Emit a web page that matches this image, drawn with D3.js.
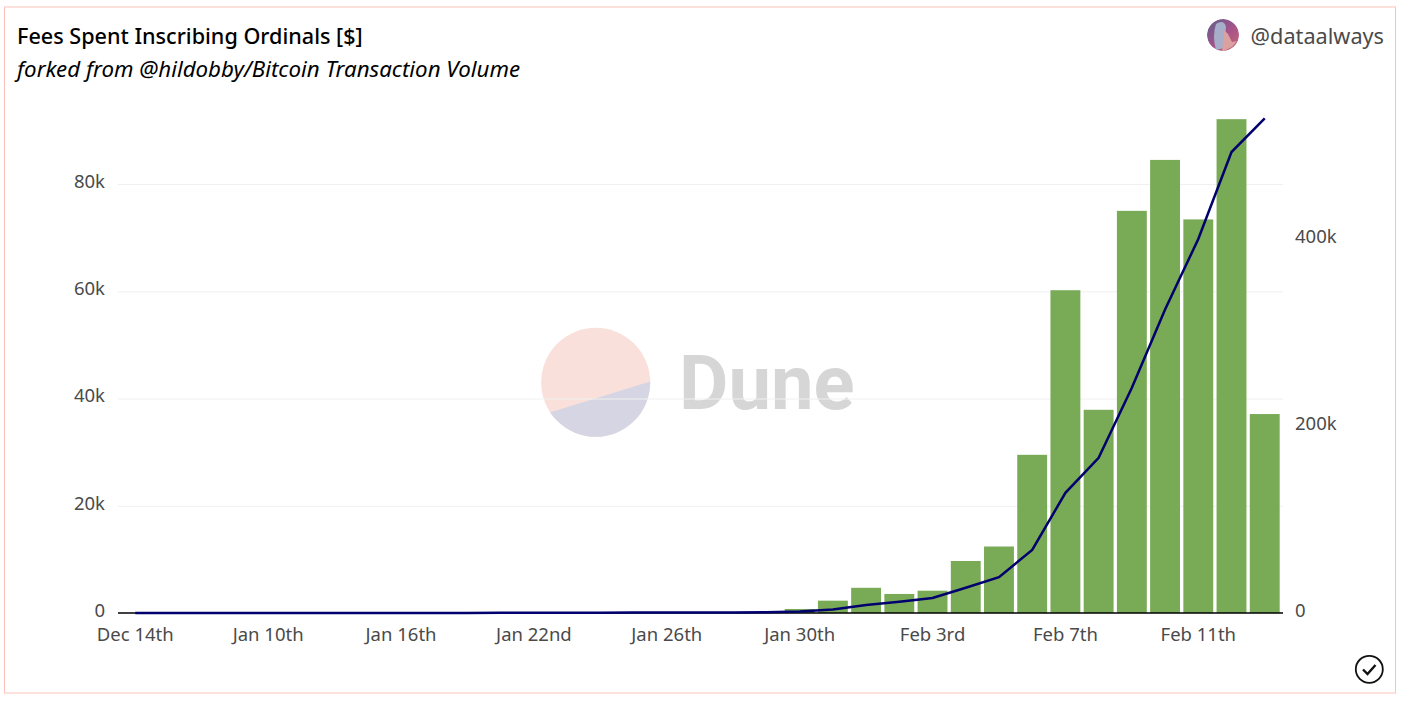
<!DOCTYPE html>
<html>
<head>
<meta charset="utf-8">
<script src="https://cdn.jsdelivr.net/npm/d3@7"></script>
<style>
  html, body { margin: 0; padding: 0; background: #fff; }
  svg { display: block; font-family: "Noto Sans", sans-serif; }
  .axis path { display: none; }
  .axis text { font-family: "Noto Sans", sans-serif; font-size: 18.5px; fill: #4a4a4a; }
  .grid line { stroke: #f0f0f0; }
  .grid path { display: none; }
</style>
</head>
<body>
<svg id="chart" width="1402" height="702"></svg>
<script>
const titleText = 'Fees Spent Inscribing Ordinals [$]';
const subtitleText = 'forked from @hildobby/Bitcoin Transaction Volume';
const authorText = '@dataalways';

// dates are sparse before Jan 22, only the every-4th labels are readable
const dates = ['Dec 14th', 'Dec 20th', 'Dec 27th', 'Jan 4th', 'Jan 10th', 'Jan 11th', 'Jan 13th', 'Jan 15th',
  'Jan 16th', 'Jan 18th', 'Jan 20th', 'Jan 21st', 'Jan 22nd', 'Jan 23rd', 'Jan 24th', 'Jan 25th',
  'Jan 26th', 'Jan 27th', 'Jan 28th', 'Jan 29th', 'Jan 30th', 'Jan 31st', 'Feb 1st', 'Feb 2nd',
  'Feb 3rd', 'Feb 4th', 'Feb 5th', 'Feb 6th', 'Feb 7th', 'Feb 8th', 'Feb 9th', 'Feb 10th',
  'Feb 11th', 'Feb 12th', 'Feb 13th'];

// daily fees, left axis
const dailyFees = [5, 5, 5, 5, 5, 5, 5, 5,
  10, 10, 10, 10, 20, 20, 20, 20,
  20, 20, 50, 150, 750, 2300, 4700, 3550,
  4160, 9700, 12400, 29500, 60200, 37900, 75000, 84500,
  73400, 92100, 37100];

// cumulative fees, right axis
const cumulativeFees = [10, 20, 30, 40, 50, 60, 70, 80,
  100, 120, 130, 150, 200, 300, 400, 450,
  500, 550, 600, 800, 1500, 3700, 8600, 12000,
  16000, 27000, 38400, 67500, 128500, 166000, 241000, 324600,
  400000, 493000, 529000];

const leftTicks = [0, 20000, 40000, 60000, 80000];
const rightTicks = [0, 200000, 400000];
const xTicks = dates.filter((d, i) => i % 4 === 0);

const BAR_COLOR = '#79aa56';
const LINE_COLOR = '#00006e';
const BASE_Y = 613;
const fmtK = d => d === 0 ? '0' : (d / 1000) + 'k';

const svg = d3.select('#chart');

let x = d3.scaleBand().domain(dates).range([117, 1283]).padding(0.1);
let yLeft = d3.scaleLinear().domain([0, 100000]).range([BASE_Y, 76.8]);
let yRight = d3.scaleLinear().domain([0, 600000]).range([BASE_Y, 52]);

// card border
svg.append('rect')
  .attr('x', 4.5).attr('y', 7).attr('width', 1391).attr('height', 686)
  .attr('fill', '#fff').attr('stroke', '#fbc2b8').attr('stroke-width', 1);

// watermark
let mark = svg.append('g');
let clip = svg.append('defs').append('clipPath').attr('id', 'mark-clip');
clip.append('circle').attr('cx', 595.7).attr('cy', 382.3).attr('r', 54.5);
mark.append('circle').attr('cx', 595.7).attr('cy', 382.3).attr('r', 54.5).attr('fill', '#f9e0da');
mark.append('path')
  .attr('d', 'M530,418.7L670,375.5V450H530Z')
  .attr('fill', '#d5d5e3')
  .attr('clip-path', 'url(#mark-clip)');
mark.append('text')
  .attr('x', 679).attr('y', 409)
  .style('font-family', 'Roboto, sans-serif')
  .style('font-size', '76px').style('font-weight', 700)
  .attr('fill', '#d6d6d6')
  .text('Dune');

// gridlines
svg.append('g').attr('class', 'grid')
  .attr('transform', 'translate(118,0)')
  .call(d3.axisLeft(yLeft).tickValues(leftTicks.slice(1)).tickSize(-1165).tickFormat(''));

// bars
svg.append('g').selectAll('rect')
  .data(dailyFees)
  .join('rect')
  .attr('x', (d, i) => x(dates[i]))
  .attr('y', d => yLeft(d))
  .attr('width', x.bandwidth())
  .attr('height', d => BASE_Y - yLeft(d))
  .attr('fill', BAR_COLOR);

// baseline
svg.append('line')
  .attr('x1', 118).attr('x2', 1283)
  .attr('y1', BASE_Y).attr('y2', BASE_Y)
  .attr('stroke', '#000').attr('stroke-width', 1.5);

// cumulative line
let line = d3.line()
  .x((d, i) => x(dates[i]) + x.bandwidth() / 2)
  .y(d => yRight(d));
svg.append('path')
  .datum(cumulativeFees)
  .attr('d', line)
  .attr('fill', 'none')
  .attr('stroke', LINE_COLOR)
  .attr('stroke-width', 2.5);

// axes
let leftAxis = svg.append('g').attr('class', 'axis')
  .attr('transform', 'translate(105,-2.5)')
  .call(d3.axisLeft(yLeft).tickValues(leftTicks).tickSize(0).tickPadding(0).tickFormat(fmtK));
let rightAxis = svg.append('g').attr('class', 'axis')
  .attr('transform', 'translate(1295,-2.5)')
  .call(d3.axisRight(yRight).tickValues(rightTicks).tickSize(0).tickPadding(0).tickFormat(fmtK));
let bottomAxis = svg.append('g').attr('class', 'axis')
  .attr('transform', 'translate(0,' + (BASE_Y + 12) + ')')
  .call(d3.axisBottom(x).tickValues(xTicks).tickSize(0).tickPadding(3));

// titles
svg.append('text')
  .attr('x', 17).attr('y', 44)
  .style('font-size', '21.6px').style('font-weight', 500)
  .attr('fill', '#000')
  .text(titleText);
svg.append('text')
  .attr('x', 17).attr('y', 77)
  .style('font-size', '22.3px').style('font-style', 'italic')
  .attr('fill', '#000')
  .text(subtitleText);
svg.append('text')
  .attr('x', 1384).attr('y', 44)
  .attr('text-anchor', 'end')
  .style('font-size', '21.7px')
  .attr('fill', '#4a4a4a')
  .text(authorText);

// avatar
let defs = svg.select('defs');
let grad = defs.append('linearGradient').attr('id', 'avatar-grad')
  .attr('x1', 0).attr('y1', 0).attr('x2', 1).attr('y2', 1);
grad.append('stop').attr('offset', 0).attr('stop-color', '#5c5f8c');
grad.append('stop').attr('offset', 0.55).attr('stop-color', '#a8528a');
grad.append('stop').attr('offset', 1).attr('stop-color', '#c96a6e');
defs.append('clipPath').attr('id', 'avatar-clip')
  .append('circle').attr('cx', 1223).attr('cy', 35).attr('r', 16);
let avatar = svg.append('g').attr('clip-path', 'url(#avatar-clip)');
avatar.append('circle').attr('cx', 1223).attr('cy', 35).attr('r', 16).attr('fill', 'url(#avatar-grad)');
avatar.append('path').attr('d', 'M1216,24Q1224,19 1226,27L1224,48L1216,50Q1212,36 1216,24Z').attr('fill', '#a7aec9');
avatar.append('path').attr('d', 'M1224,30L1228,34L1232,42L1237,41L1232,47L1222,52Z').attr('fill', '#dba0a0');

// check icon
svg.append('circle')
  .attr('cx', 1369.3).attr('cy', 669.3).attr('r', 13.5)
  .attr('fill', 'none').attr('stroke', '#111').attr('stroke-width', 1.8);
svg.append('path')
  .attr('d', 'M1363,669.5L1367.5,674L1375.5,665')
  .attr('fill', 'none').attr('stroke', '#111').attr('stroke-width', 2.4);
</script>
</body>
</html>
